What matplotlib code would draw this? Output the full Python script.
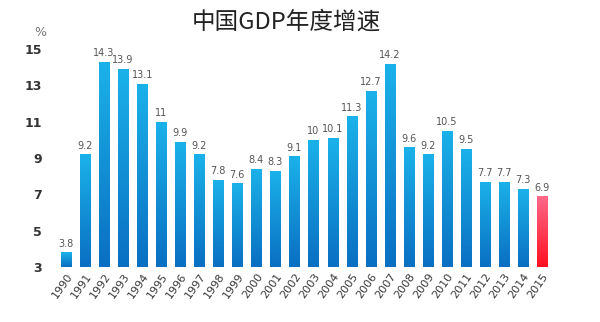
import numpy as np
import matplotlib.pyplot as plt
from matplotlib.colors import LinearSegmentedColormap

plt.rcParams['font.family'] = ['Noto Sans CJK SC', 'DejaVu Sans']

years = [str(y) for y in range(1990, 2016)]
growth = [3.8, 9.2, 14.3, 13.9, 13.1, 11, 9.9, 9.2, 7.8, 7.6, 8.4, 8.3, 9.1,
          10, 10.1, 11.3, 12.7, 14.2, 9.6, 9.2, 10.5, 9.5, 7.7, 7.7, 7.3, 6.9]
value_labels = ['3.8', '9.2', '14.3', '13.9', '13.1', '11', '9.9', '9.2', '7.8', '7.6',
                '8.4', '8.3', '9.1', '10', '10.1', '11.3', '12.7', '14.2', '9.6', '9.2',
                '10.5', '9.5', '7.7', '7.7', '7.3', '6.9']
y_ticks = [3, 5, 7, 9, 11, 13, 15]

base = 3
blue_cmap = LinearSegmentedColormap.from_list('b', ['#0a6fc2', '#1bb2ea'])
red_cmap = LinearSegmentedColormap.from_list('r', ['#ff1020', '#ff6a8a'])

fig = plt.figure(figsize=(6, 3.22), dpi=100)
ax = fig.add_axes([0.0878, 0.1708, 0.8377, 0.733])

x = np.arange(len(years))
bars = ax.bar(x, np.array(growth) - base, bottom=base, width=0.53,
              color='none', edgecolor='none')

grad = np.linspace(0, 1, 256).reshape(-1, 1)
for i, b in enumerate(bars):
    cmap = red_cmap if i == len(bars) - 1 else blue_cmap
    x0, y0 = b.get_x(), b.get_y()
    im = ax.imshow(grad, cmap=cmap, origin='lower', aspect='auto',
                   extent=[x0, x0 + b.get_width(), y0, y0 + b.get_height()],
                   zorder=2)
    im.set_clip_path(b)
    ax.text(x[i], growth[i] + 0.2, value_labels[i], ha='center', va='bottom',
            fontsize=7, color='#555555', family='DejaVu Sans')

ax.set_xlim(-0.7, len(years) - 0.3)
ax.set_ylim(3, 16)
ax.set_yticks(y_ticks)
ax.set_yticklabels([str(t) for t in y_ticks], fontsize=9, fontweight='bold',
                   color='#333333', family='DejaVu Sans')
ax.set_xticks(x)
ax.set_xticklabels(years, rotation=55, ha='right', rotation_mode='anchor',
                   fontsize=8, color='#3a3a3a', family='DejaVu Sans')
ax.tick_params(length=0, pad=3)
ax.tick_params(axis='y', pad=8)
for s in ax.spines.values():
    s.set_visible(False)

fig.text(0.067, 0.9, '%', fontsize=9, color='#777777', ha='center', va='center',
         family='DejaVu Sans')
fig.text(0.477, 0.93, '中国GDP年度增速', fontsize=17, color='#222222',
         ha='center', va='center')

fig.savefig('out.png', dpi=100, facecolor='white')
